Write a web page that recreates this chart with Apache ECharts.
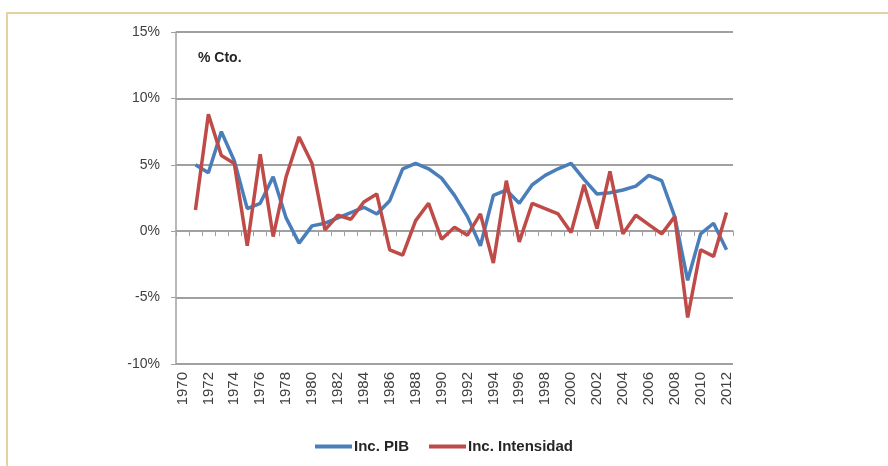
<!DOCTYPE html>
<html>
<head>
<meta charset="utf-8">
<script src="https://cdn.jsdelivr.net/npm/echarts@6/dist/echarts.min.js"></script>
<style>
  html, body { margin: 0; padding: 0; background: #fff; }
  #frame { position: absolute; left: 6px; top: 12px; width: 1000px; height: 600px;
           border-left: 2px solid #e2d39f; border-top: 2px solid #e2d39f; }
  #chart { position: absolute; left: 0; top: 0; width: 888px; height: 466px; }
</style>
</head>
<body>
<div id="frame"></div>
<div id="chart"></div>
<script>
// years 1970..2012, 1970 has no value
var years = [];
for (var y = 1970; y <= 2012; y++) years.push(String(y));

var incPIB = [null,
  5.0, 4.4, 7.5, 5.3, 1.7, 2.1, 4.1, 1.0, -0.9, 0.4,
  0.6, 1.0, 1.4, 1.8, 1.3, 2.3, 4.7, 5.1, 4.7, 4.0,
  2.7, 1.1, -1.1, 2.7, 3.1, 2.1, 3.5, 4.2, 4.7, 5.1,
  3.9, 2.8, 2.9, 3.1, 3.4, 4.2, 3.8, 1.1, -3.7, -0.2,
  0.6, -1.4];

var incIntensidad = [null,
  1.6, 8.8, 5.7, 5.1, -1.1, 5.8, -0.4, 4.1, 7.1, 5.1,
  0.1, 1.2, 0.9, 2.2, 2.8, -1.4, -1.8, 0.8, 2.1, -0.6,
  0.3, -0.3, 1.3, -2.4, 3.8, -0.8, 2.1, 1.7, 1.3, -0.1,
  3.5, 0.2, 4.5, -0.2, 1.2, 0.5, -0.2, 1.1, -6.5, -1.4,
  -1.9, 1.4];

var yTicks = [-10, -5, 0, 5, 10, 15];

var font = '"Liberation Sans", Arial, sans-serif';
var gridGrey = '#a0a0a0';

var chart = echarts.init(document.getElementById('chart'));
chart.setOption({
  animation: false,
  textStyle: { fontFamily: font },
  title: {
    text: '% Cto.',
    left: 193, top: 46,
    textStyle: { fontSize: 14, fontWeight: 'bold', color: '#262626', fontFamily: font }
  },
  legend: {
    left: 'center', top: 434,
    icon: 'rect', itemWidth: 37, itemHeight: 4, itemGap: 20,
    textStyle: { fontSize: 15, fontWeight: 'bold', color: '#262626', fontFamily: font, padding: [0, 0, 0, -3] },
    data: ['Inc. PIB', 'Inc. Intensidad']
  },
  grid: { left: 176, right: 155, top: 32, bottom: 102 },
  xAxis: [
    {
      // labels along bottom
      type: 'category', data: years, position: 'bottom',
      axisLine: { show: false, onZero: false },
      axisTick: { show: false },
      axisLabel: { interval: 1, rotate: 90, fontSize: 15, color: '#404040', margin: 8, fontFamily: font }
    },
    {
      // axis line + ticks sitting on zero
      type: 'category', data: years, position: 'bottom',
      axisLine: { show: true, onZero: true, lineStyle: { color: gridGrey, width: 1.5 } },
      axisTick: { show: true, interval: 0, length: 5, lineStyle: { color: gridGrey } },
      axisLabel: { show: false }
    }
  ],
  yAxis: {
    type: 'value', min: yTicks[0], max: yTicks[yTicks.length - 1], interval: 5,
    axisLine: { show: true, lineStyle: { color: gridGrey, width: 1.5 } },
    axisTick: { show: true, length: 5, lineStyle: { color: gridGrey } },
    axisLabel: { formatter: '{value}%', fontSize: 14, color: '#404040', margin: 16, fontFamily: font },
    splitLine: { show: true, lineStyle: { color: gridGrey, width: 2 } }
  },
  series: [
    {
      name: 'Inc. PIB', type: 'line', xAxisIndex: 0, data: incPIB,
      showSymbol: false, symbol: 'none',
      lineStyle: { color: '#4a7ebb', width: 3.5 }, itemStyle: { color: '#4a7ebb' }
    },
    {
      name: 'Inc. Intensidad', type: 'line', xAxisIndex: 0, data: incIntensidad,
      showSymbol: false, symbol: 'none',
      lineStyle: { color: '#be4b48', width: 3.5 }, itemStyle: { color: '#be4b48' }
    }
  ]
});
</script>
</body>
</html>
